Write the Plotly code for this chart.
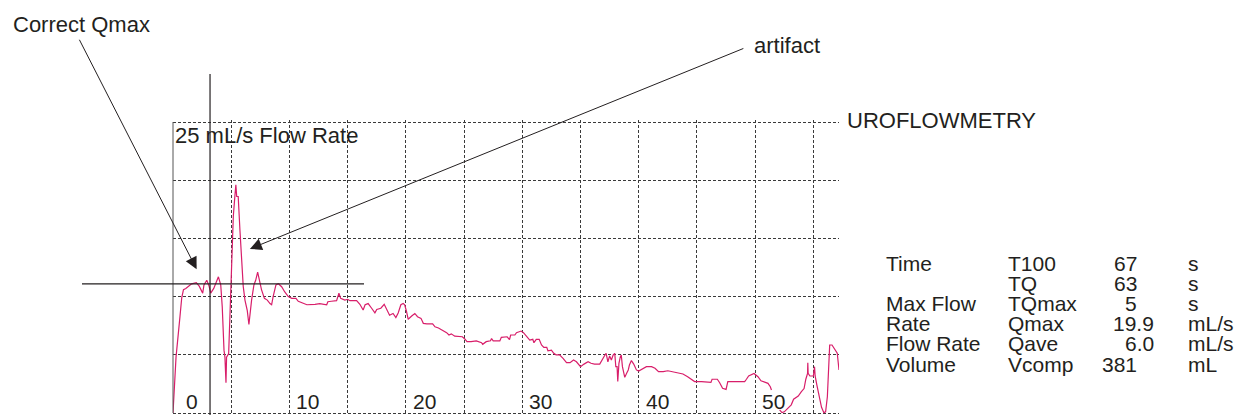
import plotly.graph_objects as go

# ---------------- data ----------------
time_s = [0.0, 0.1, 0.26, 0.6, 0.75, 0.9, 1.1, 1.6, 2.0, 2.25, 2.55, 2.66, 2.9, 3.1, 3.24, 3.5, 3.9, 4.1,
          4.23, 4.38, 4.46, 4.55, 4.6, 4.78, 4.9, 5.0, 5.1, 5.18, 5.32, 5.4, 5.47, 5.6, 5.75, 5.9, 6.03,
          6.18, 6.38, 6.52, 6.6, 6.75, 6.95, 7.1, 7.27, 7.4, 7.6, 7.85, 8.1, 8.33, 8.47, 8.6, 8.84, 9.05,
          9.33, 9.6, 9.9, 10.2, 10.56, 10.76, 11.5, 12.2, 12.6, 13.2, 13.3, 13.6, 14.05, 14.25, 14.4,
          14.76, 15.0, 15.2, 15.77, 16.05, 16.33, 16.5, 16.76, 17.06, 17.34, 17.5, 17.85, 18.14, 18.35,
          18.6, 18.9, 19.14, 19.34, 19.57, 19.77, 19.9, 20.06, 20.2, 20.5, 20.77, 21.0, 21.3, 21.5, 21.8,
          22.3, 22.5, 22.8, 23.1, 23.5, 23.7, 23.9, 24.2, 24.6, 24.85, 25.06, 25.25, 25.6, 26.05, 26.5,
          26.6, 26.9, 27.27, 27.36, 27.5, 28.07, 28.2, 28.7, 28.9, 29.0, 29.36, 29.5, 29.9, 30.1, 30.36,
          30.5, 30.64, 30.9, 31.0, 31.2, 31.45, 31.65, 31.85, 32.1, 32.2, 32.5, 32.7, 32.9, 33.2, 33.5,
          33.8, 34.1, 34.4, 34.65, 35.0, 35.3, 35.65, 35.9, 36.2, 36.65, 36.85, 37.1, 37.2, 37.35, 37.5,
          37.65, 37.8, 37.94, 38.03, 38.14, 38.2, 38.3, 38.42, 38.5, 38.6, 38.8, 38.95, 39.1, 39.2, 39.37,
          39.57, 39.8, 40.0, 40.3, 40.66, 41.1, 41.4, 41.7, 42.1, 42.5, 42.9, 43.4, 43.8, 44.2, 44.6, 44.8,
          45.4, 46.2, 46.3, 46.75, 46.95, 47.2, 47.5, 47.65, 48.1, 49.1, 49.25, 49.44, 49.9, 50.24, 50.5,
          50.8, 51.1, 51.3, 51.4, None, 52.1, 52.3, 52.5, 52.8, 53.1, 53.3, 53.7, 53.97, 54.2, 54.35, 54.5,
          54.52, 54.55, 54.7, 55.0, 55.1, 55.15, 55.3, 55.5, 55.7, 55.9, 56.05, 56.2, 56.3, 56.4, 56.6,
          56.8, 57.05, 57.2]
flow_mls = [0.0, 1.7, 4.8, 8.3, 9.9, 10.6, 10.7, 11.1, 11.2, 10.9, 10.3, 11.0, 11.4, 10.9, 10.3, 10.7, 11.7, 11.0,
            9.1, 5.4, 4.8, 2.6, 4.8, 5.1, 8.6, 11.4, 13.7, 16.9, 18.7, 19.6, 18.6, 18.6, 15.7, 12.5, 10.9,
            9.7, 8.8, 7.6, 8.4, 9.7, 11.0, 11.4, 12.1, 11.4, 10.6, 9.85, 9.7, 9.4, 9.3, 10.0, 11.0, 11.1,
            10.85, 10.4, 10.0, 9.85, 9.85, 9.6, 9.3, 9.34, 9.4, 9.3, 9.56, 9.6, 9.65, 10.3, 9.85,
            9.7, 9.77, 9.65, 9.65, 9.34, 8.85, 9.3, 9.4, 9.0, 8.6, 8.9, 9.0, 9.34, 8.85,
            8.4, 8.55, 8.2, 8.6, 9.3, 9.4, 9.3, 8.7, 8.05, 8.33, 8.55, 8.27, 8.13, 7.7, 7.65,
            7.65, 7.4, 7.3, 7.13, 6.9, 6.7, 6.8, 6.6, 6.6, 6.55, 6.36, 6.13, 6.13, 6.19, 6.04,
            5.9, 6.13, 6.2, 6.4, 6.19, 6.19, 6.5, 6.55, 6.3, 6.7, 6.7, 6.9, 7.04, 6.9, 6.6,
            6.5, 6.27, 6.33, 6.04, 6.33, 6.33, 5.84, 5.64, 5.64, 5.35, 5.4, 5.13, 5.0, 5.0, 4.7,
            4.32, 4.32, 4.55, 4.4, 3.98, 4.2, 4.4, 4.27, 4.2, 4.2, 4.6, 4.98, 5.13, 4.4, 4.9,
            4.55, 4.98, 5.13, 3.98, 3.98, 2.7, 4.27, 4.84, 4.98, 3.98, 3.06, 3.4, 3.7, 4.12, 4.5,
            4.2, 3.7, 3.6, 3.75, 3.98, 3.98, 3.84, 3.55, 3.55, 3.63, 3.55, 3.46, 3.35, 3.12, 2.84, 2.7,
            2.7, 2.63, 2.9, 2.9, 2.6, 2.12, 2.03, 2.7, 2.7, 2.7, 2.9, 3.18, 3.4, 3.12, 2.77,
            2.63, 2.55, 2.26, 1.98, None, 0.26, 0.03, 0.1, 0.4, 0.7, 1.18, 1.46, 1.83, 2.1, 2.9, 3.4,
            4.32, 3.4, 3.18, 3.18, 3.98, 3.18, 2.4, 1.26, 0.49, 0.03, 0.1, 1.4, 3.7, 5.84, 5.84,
            5.55, 5.13, 3.7]

x_ticks = [0, 10, 20, 30, 40, 50]
x_tick_labels = ["0", "10", "20", "30", "40", "50"]

correct_qmax = 11.1      # mL/s (horizontal marker)
correct_qmax_t = 3.18    # s (vertical marker)
qmax_artifact_t = 6.6    # arrow tip (artifact)
qmax_artifact_q = 14.1
correct_arrow_t = 2.03
correct_arrow_q = 12.35

table_labels = ["Time", "", "Max Flow", "Rate", "Flow Rate", "Volume"]
table_params = ["T100", "TQ", "TQmax", "Qmax", "Qave", "Vcomp"]
table_values = ["67", "63", "5", "19.9", "6.0", "381"]
table_units = ["s", "s", "s", "mL/s", "mL/s", "mL"]

# ---------------- layout helpers (pixel -> paper) ----------------
W, H = 1234, 415
L, R = 173, 839          # plot area left / right (px)
PT, PB = 120, 415        # plot area top / bottom (px)
Y_RANGE = [-0.172, 25.172]   # y=25 at 122 px, y=0 at 413 px


def px(x):
    return (x - L) / (R - L)


def py(y):
    return (PB - y) / (PB - PT)


FONT = "Liberation Sans, Arial, Helvetica, sans-serif"
TXT = "#231f20"
FS = 22

fig = go.Figure()
fig.add_trace(go.Scatter(x=time_s, y=flow_mls, mode="lines",
                         line=dict(color="#d81e6a", width=1.2),
                         connectgaps=False, hoverinfo="skip", showlegend=False))

shapes = [
    # solid left border
    dict(type="line", xref="paper", yref="y", x0=0, x1=0, y0=0, y1=25,
         line=dict(color="#555", width=1)),
    # correct Qmax markers
    dict(type="line", xref="x", yref="paper", x0=correct_qmax_t, x1=correct_qmax_t,
         y0=py(416), y1=py(74), line=dict(color=TXT, width=1.2)),
    dict(type="line", xref="paper", yref="y", x0=px(82), x1=px(364),
         y0=correct_qmax, y1=correct_qmax, line=dict(color=TXT, width=1.2)),
]

ann = []
# arrows
ann.append(dict(x=correct_arrow_t, y=correct_arrow_q, xref="x", yref="y", text="",
                showarrow=True, ax=-118, ay=-231, arrowhead=2, arrowsize=2.4,
                arrowwidth=1, arrowcolor=TXT, standoff=0))
ann.append(dict(x=qmax_artifact_t, y=qmax_artifact_q, xref="x", yref="y", text="",
                showarrow=True, ax=495, ay=-201, arrowhead=2, arrowsize=2.4,
                arrowwidth=1, arrowcolor=TXT, standoff=0))


def txt(s, x, y, anchor="left", size=FS):
    ann.append(dict(text=s, x=px(x), y=py(y), xref="paper", yref="paper",
                    xanchor=anchor, yanchor="middle", showarrow=False,
                    font=dict(family=FONT, size=size, color=TXT)))


txt("Correct Qmax", 11, 24)
txt("artifact", 752, 45)
txt("25 mL/s Flow Rate", 173, 135)
txt("UROFLOWMETRY", 845, 121)

# x tick labels (inside plot, bottom)
for v, lab in zip(x_ticks, x_tick_labels):
    ann.append(dict(text=lab, x=v, y=py(401), xref="x", yref="paper",
                    xanchor="left", yanchor="middle", showarrow=False,
                    xshift=11 if v == 0 else 5,
                    font=dict(family=FONT, size=21, color=TXT)))

# table (values aligned on the decimal point)
TFS = 21
for i in range(len(table_params)):
    yy = 263 + 20.2 * i
    if table_labels[i]:
        txt(table_labels[i], 884, yy, size=TFS)
    txt(table_params[i], 1006, yy, size=TFS)
    v = table_values[i]
    txt(v, 1156 if "." in v else 1139, yy, anchor="right", size=TFS)
    txt(table_units[i], 1186, yy, size=TFS)

grid = dict(showgrid=True, gridcolor="#3a3a3a", gridwidth=1, griddash="3px,2px",
            zeroline=False, showline=False, showticklabels=False, ticks="")

fig.update_layout(
    width=W, height=H,
    margin=dict(l=L, r=W - R, t=PT, b=H - PB, pad=0),
    paper_bgcolor="white", plot_bgcolor="white",
    xaxis=dict(range=[0, 57.2], dtick=5, tick0=0, fixedrange=True, **grid),
    yaxis=dict(range=Y_RANGE, dtick=5, tick0=0, fixedrange=True, **grid),
    shapes=shapes, annotations=ann, showlegend=False,
)

fig.write_html("out.html",
               config={"displayModeBar": False, "staticPlot": True},
               post_script="document.body.style.margin='0';document.body.style.padding='0';"
                           "document.body.style.overflow='hidden';")
